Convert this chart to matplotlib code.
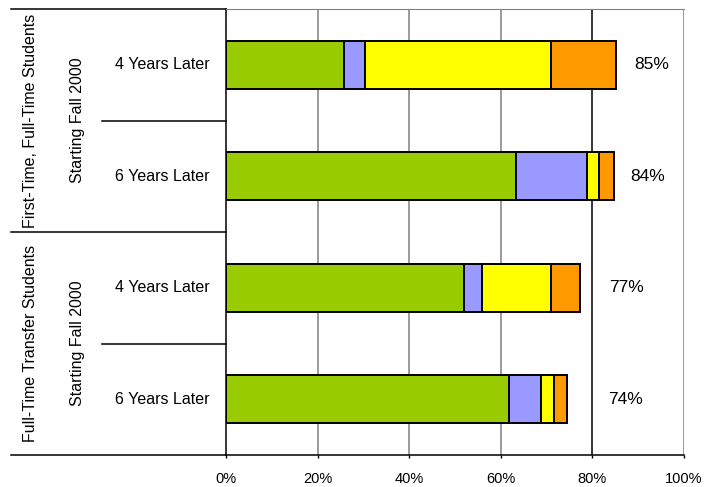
import numpy as np
import matplotlib; matplotlib.use("Agg")
import matplotlib.pyplot as plt
from matplotlib.transforms import blended_transform_factory

plt.rcParams["font.family"] = ["Liberation Sans", "DejaVu Sans"]

# data (percent of cohort, stacked segments)
rows = ["4 Years Later", "6 Years Later", "4 Years Later", "6 Years Later"]
groups = ["First-Time, Full-Time Students", "Full-Time Transfer Students"]
subgroups = ["Starting Fall 2000", "Starting Fall 2000"]
seg_green = [25.8, 63.4, 52.0, 61.7]
seg_blue = [4.6, 15.5, 4.0, 7.0]
seg_yellow = [40.6, 2.5, 15.0, 2.9]
seg_orange = [14.2, 3.4, 6.3, 2.9]
totals_lbl = ["85%", "84%", "77%", "74%"]
xticks = [0, 20, 40, 60, 80, 100]

colors = ["#99CC00", "#9999FF", "#FFFF00", "#FF9900"]
label_x = [92.9, 92.0, 87.5, 87.2]

fig = plt.figure(figsize=(7.16, 4.87), dpi=100)
ax = fig.add_axes([0.3156, 0.0657, 0.6397, 0.9158])

y = np.arange(len(rows))
left = np.zeros(len(rows))
for vals, col in zip([seg_green, seg_blue, seg_yellow, seg_orange], colors):
    ax.barh(y, vals, left=left, height=0.43, color=col, edgecolor="black", lw=1.4, zorder=3)
    left += np.array(vals)

for yi, (lx, t) in enumerate(zip(label_x, totals_lbl)):
    ax.text(lx, yi, t, ha="center", va="center", fontsize=12.5)

ax.set_xlim(0, 100)
ax.set_ylim(3.5, -0.5)
ax.set_xticks(xticks)
ax.set_xticklabels([f"{v}%" for v in xticks], fontsize=10.5)
ax.set_yticks([])
for v in xticks[1:]:
    ax.axvline(v, color="black" if v == 80 else "#808080", lw=1.1, zorder=1)
ax.tick_params(axis="x", length=2.5, width=1, direction="out", pad=10)
ax.spines["right"].set_visible(False)
ax.spines["top"].set_color("#808080")
ax.spines["left"].set_linewidth(1.1)
ax.spines["bottom"].set_linewidth(1.1)

# hierarchical category labels on the left
tr = blended_transform_factory(ax.transAxes, ax.transData)
for yl in [-0.5, 1.5, 3.5]:
    ax.plot([-0.469, 0], [yl, yl], color="black", lw=1.1, transform=tr, clip_on=False)
for yl in [0.5, 2.5]:
    ax.plot([-0.271, 0], [yl, yl], color="black", lw=1.1, transform=tr, clip_on=False)
for gi, (g, sg) in enumerate(zip(groups, subgroups)):
    yc = 2 * gi + 0.5
    ax.text(-0.426, yc, g, rotation=90, ha="center", va="center", fontsize=11.5, transform=tr)
    ax.text(-0.325, yc, sg, rotation=90, ha="center", va="center", fontsize=11.5, transform=tr)
for yi, r in enumerate(rows):
    ax.text(-0.14, yi, r, ha="center", va="center", fontsize=11.5, transform=tr)

fig.savefig("out.png", dpi=100)
